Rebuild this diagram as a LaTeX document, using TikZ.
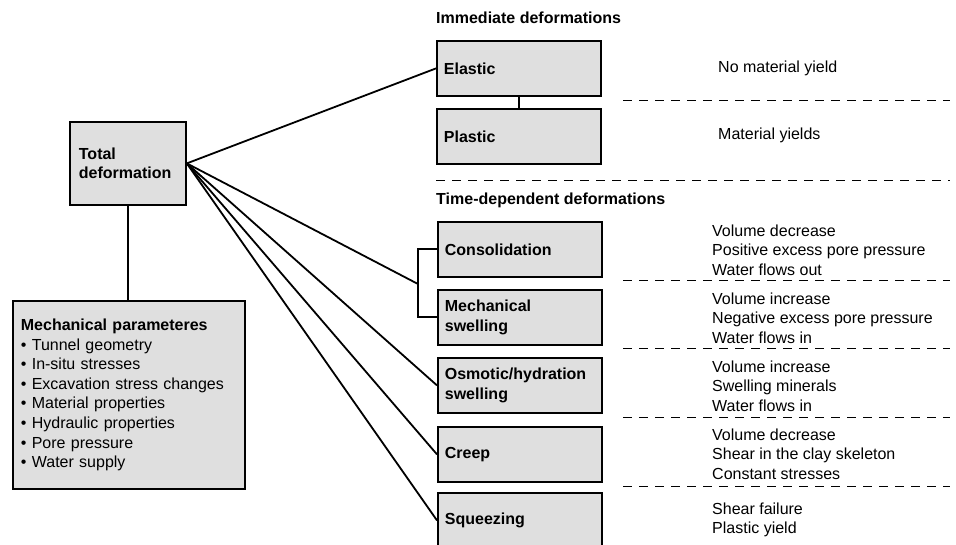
\documentclass[tikz,border=0pt]{standalone}
\usepackage{fontspec}
\setmainfont{Liberation Sans}
\begin{document}
\begin{tikzpicture}[%
  x=1pt, y=-1pt,
  every node/.style={font=\fontsize{16}{19.6}\selectfont},
  box/.style={draw, line width=1.8pt, fill=gray!25, anchor=north west,
    minimum height=55pt, text width=150pt, inner xsep=7pt, align=left,
    font=\fontsize{16}{19.6}\selectfont\bfseries},
  head/.style={anchor=west, inner sep=0pt, font=\fontsize{16}{19.6}\selectfont\bfseries},
  note/.style={anchor=west, align=left, inner sep=0pt},
  link/.style={line width=1.8pt},
  sep/.style={line width=0.8pt, dash pattern=on 9pt off 7pt}]
\useasboundingbox (0,0) rectangle (956,545);
\clip (0,0) rectangle (956,545);
\node[box, text width=98pt, inner xsep=9pt, minimum height=83pt] (total) at (69,121) {Total\\deformation};
\node[box, text width=216pt, inner xsep=8pt, minimum height=188pt,
  font=\fontsize{16}{19.6}\selectfont] (params) at (12,300)
  {\textbf{Mechanical parameteres}\\
   • Tunnel geometry\\
   • In-situ stresses\\
   • Excavation stress changes\\
   • Material properties\\
   • Hydraulic properties\\
   • Pore pressure\\
   • Water supply};
\node[head] (imm) at (436,18) {Immediate deformations};
\node[box] (elastic) at (436,40) {Elastic};
\node[box] (plastic) at (436,108) {Plastic};
\node[head] (time) at (436,200) {Time-dependent deformations};
\node[box] (consol) at (437,221) {Consolidation};
\node[box] (mswell) at (437,289) {Mechanical\\swelling};
\node[box] (osmotic) at (437,357) {Osmotic/hydration\\swelling};
\node[box] (creep) at (437,426) {Creep};
\node[box] (squeeze) at (437,492) {Squeezing};
\node[note] (nelastic) at (718,68) {No material yield};
\node[note] (nplastic) at (718,135) {Material yields};
\node[note] (nconsol) at (712,250) {Volume decrease\\Positive excess pore pressure\\Water flows out};
\node[note] (nmswell) at (712,318) {Volume increase\\Negative excess pore pressure\\Water flows in};
\node[note] (nosmotic) at (712,386) {Volume increase\\Swelling minerals\\Water flows in};
\node[note] (ncreep) at (712,454) {Volume decrease\\Shear in the clay skeleton\\Constant stresses};
\node[note] (nsqueeze) at (712,520) {Shear failure\\Plastic yield};
\coordinate (brk) at (418,284);
\draw[link] (total.south) -- (total.south |- params.north);
\draw[link] (elastic.south) -- (plastic.north);
\draw[link] (consol.west) -| (brk) |- (mswell.west);
\foreach \t in {elastic.west, brk, osmotic.west, creep.west, squeeze.west}
  \draw[link] (total.east) -- (\t);
\foreach \y/\x in {100/623, 180/436, 280/623, 348/623, 417/623, 486/623}
  \draw[sep] (\x,\y) -- (950,\y);
\end{tikzpicture}
\end{document}
